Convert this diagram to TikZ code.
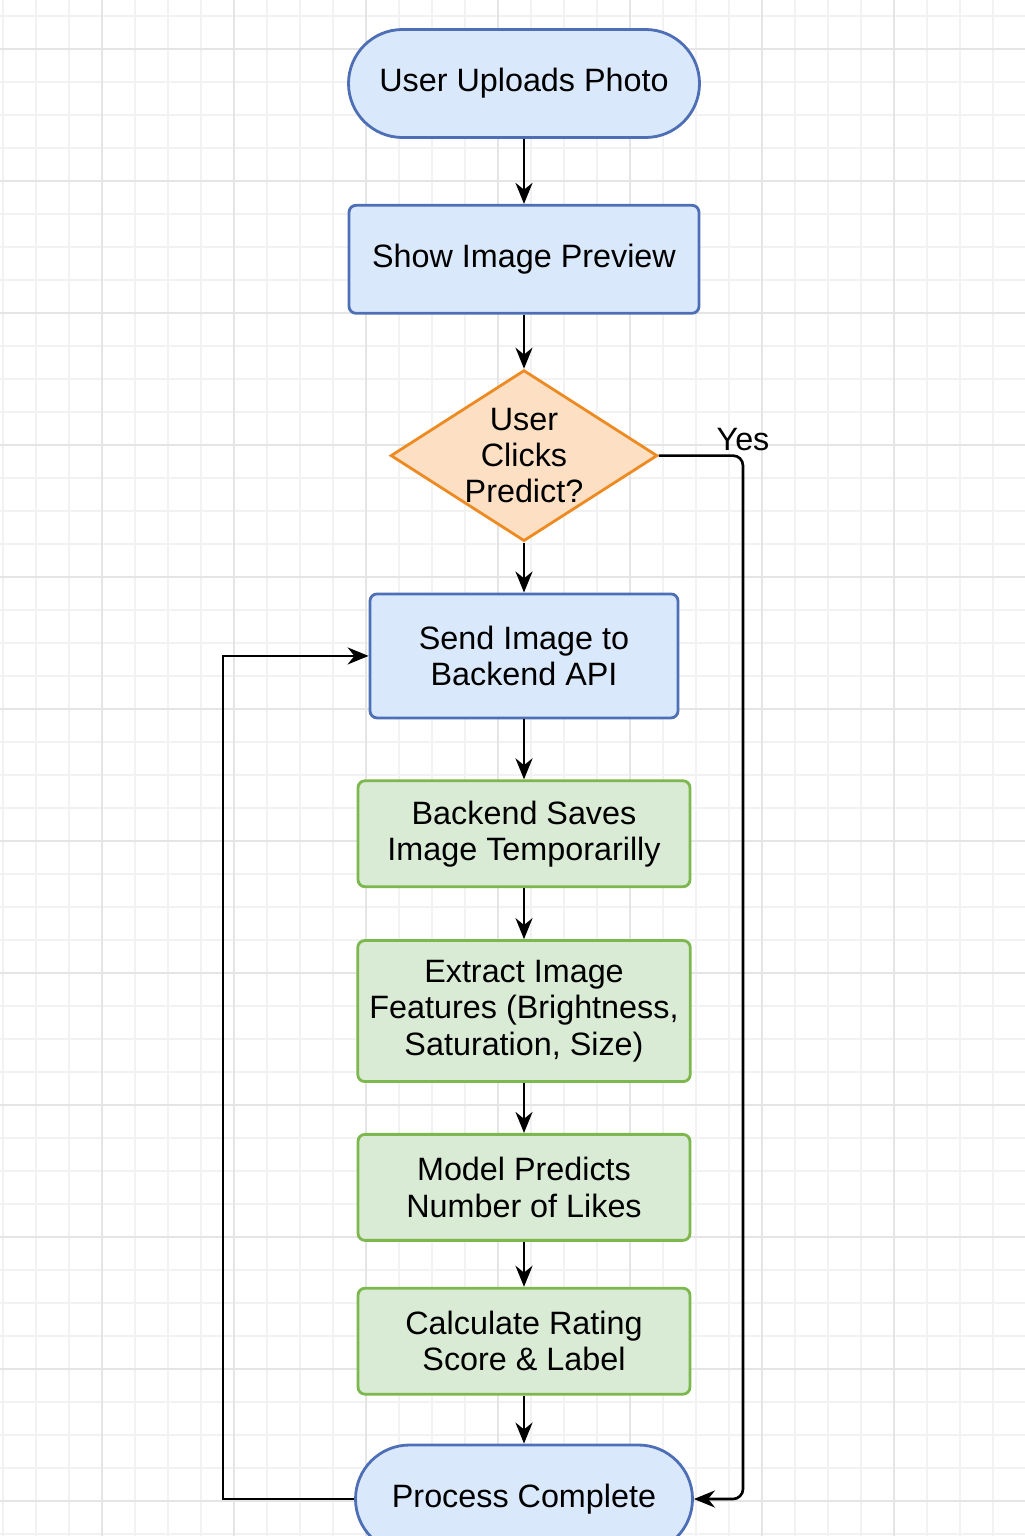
\documentclass[tikz,border=0pt]{standalone}
\usepackage{fontspec}
\setmainfont{Liberation Sans}
\usetikzlibrary{positioning,shapes.geometric,arrows.meta}

\definecolor{blueFill}{HTML}{DAE8FC}
\definecolor{blueDraw}{HTML}{4E6FB5}
\definecolor{orangeFill}{HTML}{FDDFC3}
\definecolor{orangeDraw}{HTML}{EE8A22}
\definecolor{greenFill}{HTML}{D9EAD5}
\definecolor{greenDraw}{HTML}{7DB84F}

\tikzstyle{flowText} = [font=\fontsize{9.2pt}{10.3pt}\selectfont, text centered, align=center]
\tikzstyle{termNode} = [flowText, rectangle, rounded corners=0.54cm, minimum height=1.08cm, fill=blueFill, draw=blueDraw, line width=0.8pt]
\tikzstyle{blueNode} = [flowText, rectangle, rounded corners=2pt, fill=blueFill, draw=blueDraw, line width=0.8pt]
\tikzstyle{greenNode} = [flowText, rectangle, rounded corners=2pt, minimum width=3.32cm, fill=greenFill, draw=greenDraw, line width=0.8pt]
\tikzstyle{decideNode} = [flowText, diamond, aspect=1.56, inner sep=0pt, minimum width=2.65cm, minimum height=1.7cm, fill=orangeFill, draw=orangeDraw, line width=0.8pt]
\tikzstyle{arrow} = [line width=0.75pt, -{Stealth[length=2.1mm,width=1.7mm]}]
\tikzstyle{gridMinor} = [draw=black!5, line width=0.4pt]
\tikzstyle{gridMajor} = [draw=black!10, line width=0.6pt]

\begin{document}
\begin{tikzpicture}
  \useasboundingbox[fill=white] (0,0) rectangle (10.24,-15.36);

  % background grid
  \begin{scope}[shift={(0.03,-0.16)}]
    \draw[gridMinor, step=0.33] (-0.33,0.33) grid (10.4,-15.4);
    \draw[gridMajor, step=1.32, shift={(0.99,-0.33)}] (-1.32,1.32) grid (9.4,-15.4);
  \end{scope}

  \node (start)[termNode, minimum width=3.51cm] at (5.24,-0.835) {User Uploads Photo};
  \node (preview)[blueNode, below=0.65cm of start, minimum width=3.5cm, minimum height=1.08cm] {Show Image Preview};
  \node (decide)[decideNode, below=0.54cm of preview] {User\\Clicks\\Predict?};
  \node (send)[blueNode, below=0.50cm of decide, minimum width=3.08cm, minimum height=1.24cm] {Send Image to\\Backend API};
  \node (saves)[greenNode, below=0.60cm of send, minimum height=1.06cm] {Backend Saves\\Image Temporarilly};
  \node (extract)[greenNode, below=0.51cm of saves, minimum height=1.41cm] {Extract Image\\Features (Brightness,\\Saturation, Size)};
  \node (model)[greenNode, below=0.50cm of extract, minimum height=1.06cm] {Model Predicts\\Number of Likes};
  \node (rating)[greenNode, below=0.45cm of model, minimum height=1.06cm] {Calculate Rating\\Score \& Label};
  \node (finish)[termNode, below=0.48cm of rating, minimum width=3.37cm] {Process Complete};

  \draw [arrow] (start) -- (preview);
  \draw [arrow] (preview) -- (decide);
  \draw [arrow] (decide) -- (send);
  \draw [arrow] (send) -- (saves);
  \draw [arrow] (saves) -- (extract);
  \draw [arrow] (extract) -- (model);
  \draw [arrow] (model) -- (rating);
  \draw [arrow] (rating) -- (finish);

  \coordinate (yesRail) at (7.43,-9.0);
  \coordinate (loopRail) at (2.23,-9.0);

  \draw [arrow, rounded corners=0.1cm] (decide.east) -| node[pos=0.5, above, inner sep=1pt, flowText]{Yes} (yesRail) |- (finish.east);
  \draw [arrow] (finish.west) -| (loopRail) |- (send.west);
\end{tikzpicture}
\end{document}
